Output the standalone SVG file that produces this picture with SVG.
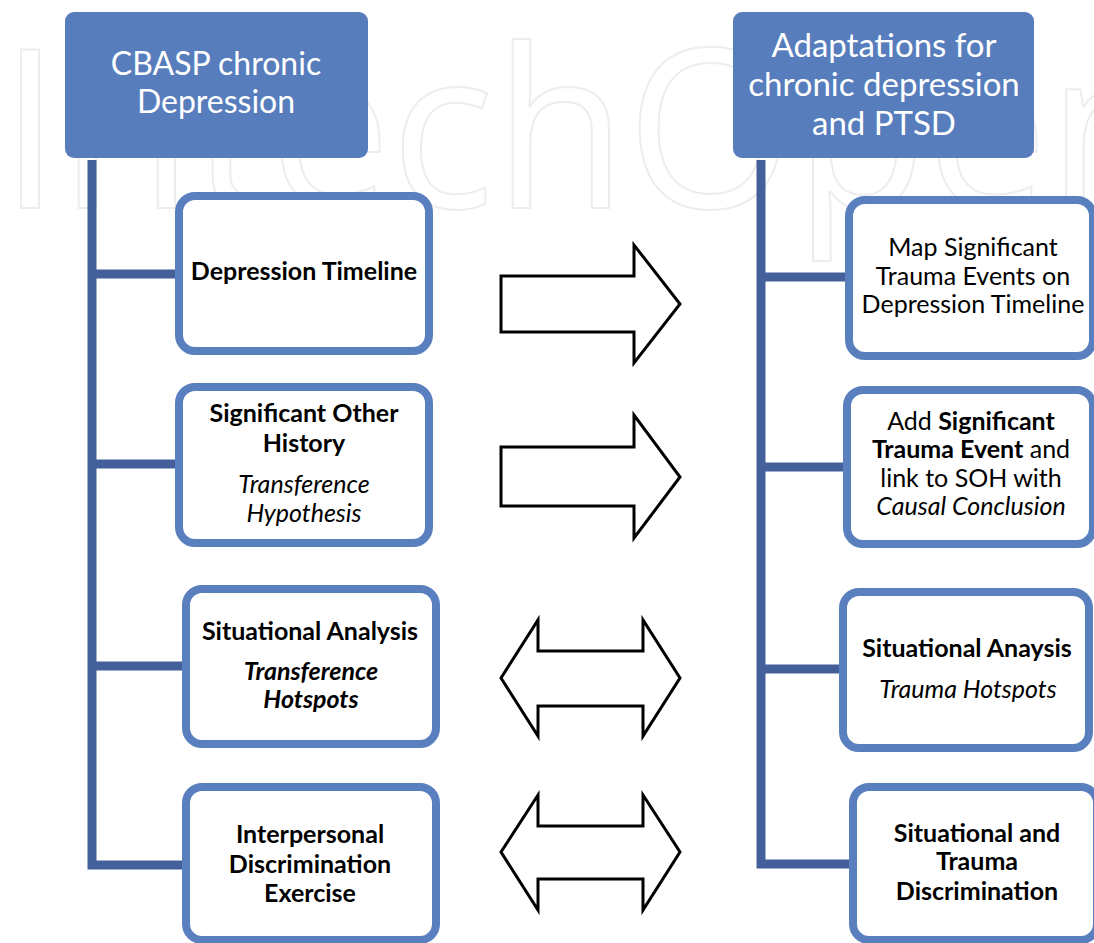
<svg xmlns="http://www.w3.org/2000/svg" width="1094" height="943" viewBox="0 0 1094 943">
<style>
.wm{font-family:"Open Sans","DejaVu Sans",sans-serif;font-size:222px;fill:none;stroke:#ededed;stroke-width:2}
.hdr{fill:#577dbd}
.htx{font-family:Lato,"Noto Sans",sans-serif;font-size:32px;fill:#ffffff;text-anchor:middle}
.htr{font-size:33px}
.box{fill:#ffffff;stroke:#5a7fbf;stroke-width:8}
.tx{font-family:Lato,"Noto Sans",sans-serif;font-size:25px;fill:#000000;text-anchor:middle}
.b{font-weight:bold}
.i{font-style:italic}
.trunk{fill:none;stroke:#43609a;stroke-width:9}
.arr{fill:#ffffff;stroke:#000000;stroke-width:3;stroke-linejoin:miter}
</style>
<rect x="0" y="0" width="1094" height="943" fill="#ffffff"/>
<text class="wm" x="0" y="208" textLength="1180" lengthAdjust="spacingAndGlyphs">IntechOpen</text>

<g id="connectors">
<path class="trunk" d="M92,160 V865 H183 M92,274 H180 M92,464 H180 M92,666 H186"/>
<path class="trunk" d="M761,160 V864 H853 M761,277 H849 M761,467 H847 M761,669 H843"/>
<polygon class="arr" points="501,276 634,276 634,245 680,304 634,363 634,332 501,332"/>
<polygon class="arr" points="501,447 634,447 634,415 680,477 634,538 634,506 501,506"/>
<polygon class="arr" points="501,678 538,620 538,651 643,651 643,620 680,678 643,736 643,706 538,706 538,736"/>
<polygon class="arr" points="501,852 538,795 538,826 643,826 643,795 680,852 643,910 643,879 538,879 538,910"/>
</g>

<g id="hdr-left">
<rect class="hdr" x="65" y="12" width="303" height="146" rx="9"/>
<text class="htx" x="216" y="75">CBASP chronic</text>
<text class="htx" x="216" y="113">Depression</text>
</g>
<g id="hdr-right">
<rect class="hdr" x="733" y="12" width="301" height="146" rx="9"/>
<text class="htx htr" x="884" y="57">Adaptations for</text>
<text class="htx htr" x="884" y="96">chronic depression</text>
<text class="htx htr" x="884" y="135">and PTSD</text>
</g>

<g id="l1">
<rect class="box" x="179" y="196" width="250" height="155" rx="16"/>
<text class="tx b" x="304" y="280">Depression Timeline</text>
</g>
<g id="l2">
<rect class="box" x="179" y="387" width="250" height="156" rx="16"/>
<text class="tx b" x="304" y="422">Significant Other</text>
<text class="tx b" x="304" y="452">History</text>
<text class="tx i" x="304" y="493">Transference</text>
<text class="tx i" x="304" y="522">Hypothesis</text>
</g>
<g id="l3">
<rect class="box" x="186" y="589" width="250" height="155" rx="16"/>
<text class="tx b" x="310" y="640">Situational Analysis</text>
<text class="tx b i" x="311" y="680">Transference</text>
<text class="tx b i" x="311" y="708">Hotspots</text>
</g>
<g id="l4">
<rect class="box" x="186" y="787" width="250" height="153" rx="16"/>
<text class="tx b" x="310" y="843">Interpersonal</text>
<text class="tx b" x="310" y="873">Discrimination</text>
<text class="tx b" x="310" y="902">Exercise</text>
</g>

<g id="r1">
<rect class="box" x="849" y="200" width="244" height="156" rx="16"/>
<text class="tx" x="973" y="256">Map Significant</text>
<text class="tx" x="973" y="285">Trauma Events on</text>
<text class="tx" x="973" y="313">Depression Timeline</text>
</g>
<g id="r2">
<rect class="box" x="847" y="390" width="246" height="154" rx="16"/>
<text class="tx" x="971" y="430">Add <tspan class="b">Significant</tspan></text>
<text class="tx" x="971" y="458"><tspan class="b">Trauma Event</tspan> and</text>
<text class="tx" x="971" y="487">link to SOH with</text>
<text class="tx i" x="971" y="515">Causal Conclusion</text>
</g>
<g id="r3">
<rect class="box" x="843" y="592" width="246" height="156" rx="16"/>
<text class="tx b" x="967" y="657">Situational Anaysis</text>
<text class="tx i" x="968" y="698">Trauma Hotspots</text>
</g>
<g id="r4">
<rect class="box" x="853" y="787" width="244" height="153" rx="16"/>
<text class="tx b" x="977" y="842">Situational and</text>
<text class="tx b" x="977" y="870">Trauma</text>
<text class="tx b" x="977" y="900">Discrimination</text>
</g>
</svg>
